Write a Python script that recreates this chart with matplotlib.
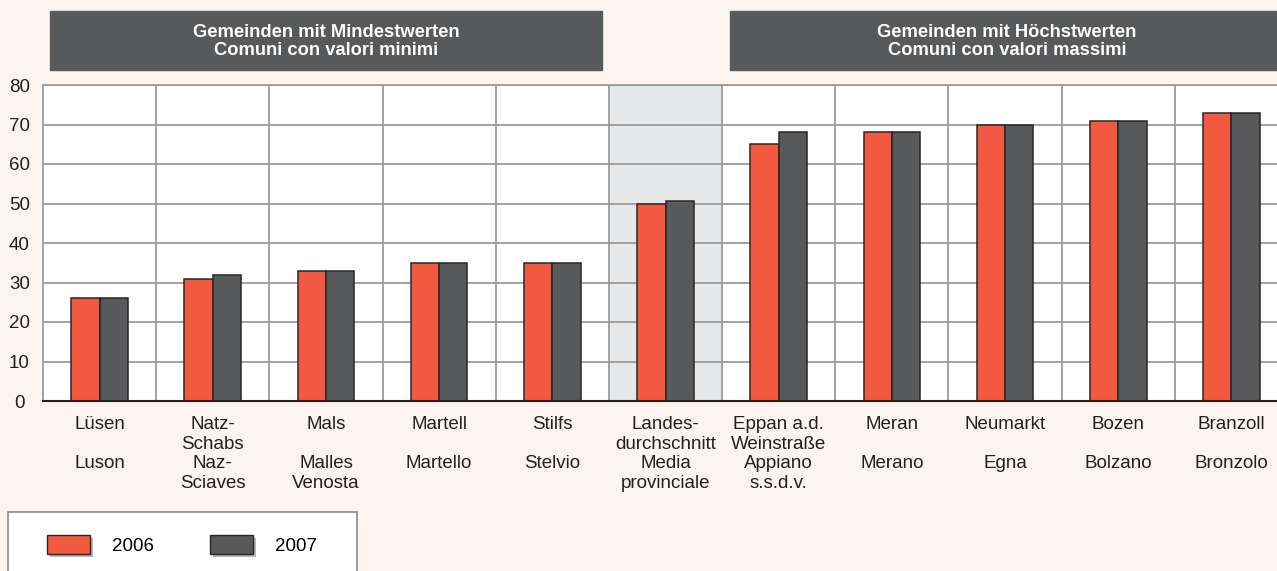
import matplotlib.pyplot as plt
from matplotlib.patches import Rectangle
from matplotlib.patheffects import withSimplePatchShadow
import numpy as np

plt.rcParams['font.family'] = ['Liberation Sans', 'DejaVu Sans']

# labels: German name, Italian name
labels = [
    "Lüsen\n\nLuson",
    "Natz-\nSchabs\nNaz-\nSciaves",
    "Mals\n\nMalles\nVenosta",
    "Martell\n\nMartello",
    "Stilfs\n\nStelvio",
    "Landes-\ndurchschnitt\nMedia\nprovinciale",
    "Eppan a.d.\nWeinstraße\nAppiano\ns.s.d.v.",
    "Meran\n\nMerano",
    "Neumarkt\n\nEgna",
    "Bozen\n\nBolzano",
    "Branzoll\n\nBronzolo",
]
values_2006 = [26, 31, 33, 35, 35, 49.9, 65, 68, 70, 71, 73]
values_2007 = [26, 32, 33, 35, 35, 50.7, 68, 68, 70, 71, 73]
series_names = ["2006", "2007"]
y_ticks = [0, 10, 20, 30, 40, 50, 60, 70, 80]
header_left = "Gemeinden mit Mindestwerten\nComuni con valori minimi"
header_right = "Gemeinden mit Höchstwerten\nComuni con valori massimi"

RED = '#f15a40'
DARK = '#58595b'
BG = '#fef4ef'
GRID = '#9b9b9b'
FS = 13.5

W, H = 1277, 571
fig = plt.figure(figsize=(W / 100, H / 100), dpi=100, facecolor=BG)

# plot area in pixels: x 43..1288, y 85..401
ax = fig.add_axes([43 / W, (H - 401) / H, 1245 / W, 316 / H])
ax.set_facecolor('white')

n = len(labels)
x = np.arange(n)
bw = 0.25

# shaded provincial average column
ax.axvspan(4.5, 5.5, color='#e6e7e8', zorder=0)

for xi in np.arange(0.5, n - 0.5, 1):
    ax.axvline(xi, color=GRID, lw=1.3, zorder=1)
for yv in y_ticks[1:]:
    ax.axhline(yv, color=GRID, lw=1.3, zorder=1)

ax.bar(x - bw / 2, values_2006, bw, color=RED, edgecolor='#2b2626', lw=1.1, zorder=3)
ax.bar(x + bw / 2, values_2007, bw, color=DARK, edgecolor='#2b2626', lw=1.1, zorder=3)

ax.set_xlim(-0.5, n - 0.5)
ax.set_ylim(0, 80)
ax.set_yticks(y_ticks)
ax.set_yticklabels([str(v) for v in y_ticks], fontsize=FS, color='#231f20', ha='center')
ax.tick_params(axis='y', length=0, pad=17)
ax.set_xticks(x)
ax.set_xticklabels(labels, fontsize=FS, color='#231f20', linespacing=1.2)
ax.tick_params(axis='x', length=0, pad=11)

for side in ['left', 'top', 'right']:
    ax.spines[side].set_color(GRID)
    ax.spines[side].set_linewidth(1.3)
ax.spines['bottom'].set_color('#231f20')
ax.spines['bottom'].set_linewidth(1.5)
ax.spines['bottom'].set_zorder(4)

# header boxes
for x0, x1, cx, txt in [(50, 602, 326, header_left), (730, 1290, 1007, header_right)]:
    fig.patches.append(Rectangle((x0 / W, (H - 70) / H), (x1 - x0) / W, 59 / H,
                                 transform=fig.transFigure, color=DARK, zorder=0))
    fig.text(cx / W, (H - 41.5) / H, txt, color='white', fontsize=13.2,
             fontweight='bold', ha='center', va='center', linespacing=1.15)

# legend frame (runs off the bottom edge)
fig.patches.append(Rectangle((8 / W, -10 / H), 349 / W, (H - 512 + 10) / H,
                             transform=fig.transFigure, facecolor='white',
                             edgecolor='#8a8a8a', lw=1.2, zorder=0))

shadow = [withSimplePatchShadow(offset=(2, -2), shadow_rgbFace='#888888', alpha=0.6)]
handles = [Rectangle((0, 0), 1, 1, facecolor=RED, edgecolor='#2b2626', lw=1, path_effects=shadow),
           Rectangle((0, 0), 1, 1, facecolor=DARK, edgecolor='#2b2626', lw=1, path_effects=shadow)]
fig.legend(handles, series_names, loc='center left', bbox_to_anchor=(47 / W, (H - 545) / H),
           ncol=2, frameon=False, fontsize=FS, handlelength=2.3, handleheight=1.17,
           handletextpad=1.17, columnspacing=3.0, borderpad=0, borderaxespad=0)

fig.savefig('out.png', dpi=100, facecolor=BG)
